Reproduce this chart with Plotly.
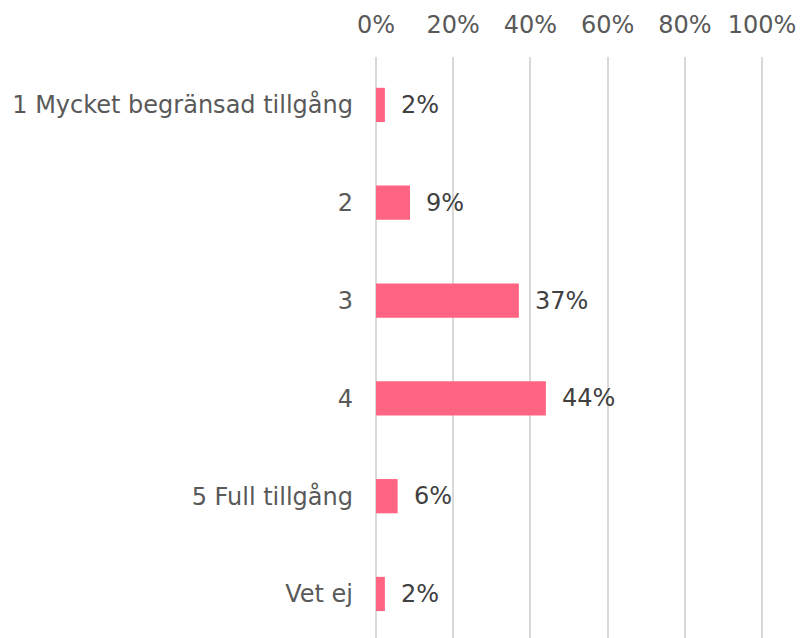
import plotly.graph_objects as go

categories = ["1 Mycket begränsad tillgång", "2", "3", "4", "5 Full tillgång", "Vet ej"]
values = [2.3, 8.8, 37.0, 44.0, 5.6, 2.3]
tick_vals = [0, 20, 40, 60, 80, 100]
tick_labels = ["0%", "20%", "40%", "60%", "80%", "100%"]

FONT = "DejaVu Sans"
BAR_COLOR = "#FF6482"
SIZE = 24

fig = go.Figure()
fig.add_trace(go.Bar(
    y=categories, x=values, orientation="h",
    marker=dict(color=BAR_COLOR, line=dict(width=0)),
    width=0.35, hoverinfo="skip",
))

for i, v in enumerate(values):
    fig.add_annotation(
        x=v, y=i, text=f"{round(v)}%", showarrow=False,
        xanchor="left", yanchor="middle", xshift=14,
        font=dict(family=FONT, size=SIZE, color="#404040"),
    )

fig.update_layout(
    width=802, height=638,
    margin=dict(l=376, r=38, t=57, b=0, autoexpand=False),
    paper_bgcolor="white", plot_bgcolor="white",
    showlegend=False,
    font=dict(family=FONT, size=SIZE, color="#595959"),
    xaxis=dict(
        side="top", range=[0, 100.5], tickvals=tick_vals, ticktext=tick_labels,
        showgrid=True, gridcolor="#D9D9D9", gridwidth=2,
        zeroline=True, zerolinecolor="#D9D9D9", zerolinewidth=2,
        showline=False, ticks="", ticklabelstandoff=18, automargin=False,
        tickfont=dict(family=FONT, size=SIZE, color="#595959"),
        fixedrange=True,
    ),
    yaxis=dict(
        categoryorder="array", categoryarray=categories,
        range=[5.45, -0.49], showgrid=False, zeroline=False, showline=False,
        ticks="", ticklabelstandoff=22, automargin=False,
        tickfont=dict(family=FONT, size=SIZE, color="#595959"),
        fixedrange=True,
    ),
)

fig.write_html(
    "out.html",
    config={"displayModeBar": False},
    post_script="document.body.style.margin='0';document.body.style.overflow='hidden';",
)
